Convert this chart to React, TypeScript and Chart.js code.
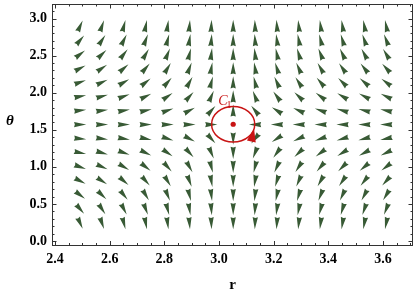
import { useEffect, useRef } from 'react';
import { Chart, registerables } from 'chart.js';

Chart.register(...registerables);

// Sample positions of the direction field
const rValues = [2.492, 2.572, 2.652, 2.732, 2.812, 2.892, 2.972, 3.052, 3.132, 3.212, 3.292, 3.372, 3.452, 3.532, 3.612];
const thetaValues = [0.24, 0.43, 0.62, 0.81, 1.0, 1.19, 1.38, 1.57, 1.76, 1.95, 2.14, 2.33, 2.52, 2.71, 2.9];

// Arrow directions on screen, degrees counter-clockwise from +r; rows bottom -> top; null = no arrow
const angleRows: (number | null)[][] = [
  [-65.6, -70.5, -74.8, -78.6, -81.9, -84.9, -87.6, -90, -92.2, -94.1, -95.9, -97.6, -99.1, -100.4, -101.7],
  [-49.8, -56.5, -63.0, -69.3, -75.1, -80.5, -85.5, -90, -94.1, -97.7, -101.0, -104.0, -106.6, -109.0, -111.2],
  [-37.2, -44.2, -51.6, -59.5, -67.5, -75.5, -83.0, -90, -96.3, -101.9, -106.8, -111.2, -114.9, -118.2, -121.1],
  [-27.3, -33.4, -40.6, -49.1, -58.7, -69.1, -79.8, -90, -99.3, -107.2, -114.0, -119.7, -124.4, -128.3, -131.6],
  [-19.2, -24.0, -30.1, -37.9, -48.0, -60.5, -75.0, -90, -103.6, -114.7, -123.4, -130.2, -135.4, -139.5, -142.8],
  [-12.2, -15.5, -19.8, -25.8, -34.6, -47.7, -66.7, -90, -111.2, -126.5, -136.7, -143.6, -148.5, -152.0, -154.7],
  [-6.0, -7.6, -9.9, -13.1, -18.4, -28.0, -48.3, -90, -128.8, -146.9, -155.6, -160.4, -163.5, -165.6, -167.2],
  [0, 0, 0, 0, 0, 0, 0, null, 180, 180, 180, 180, 180, 180, 180],
  [6.0, 7.6, 9.9, 13.1, 18.4, 28.0, 48.3, 90, 128.8, 146.9, 155.6, 160.4, 163.5, 165.6, 167.2],
  [12.2, 15.5, 19.8, 25.8, 34.6, 47.7, 66.7, 90, 111.2, 126.5, 136.7, 143.6, 148.5, 152.0, 154.7],
  [19.2, 24.0, 30.1, 37.9, 48.0, 60.5, 75.0, 90, 103.6, 114.7, 123.4, 130.2, 135.4, 139.5, 142.8],
  [27.3, 33.4, 40.6, 49.1, 58.7, 69.1, 79.8, 90, 99.3, 107.2, 114.0, 119.7, 124.4, 128.3, 131.6],
  [37.2, 44.2, 51.6, 59.5, 67.5, 75.5, 83.0, 90, 96.3, 101.9, 106.8, 111.2, 114.9, 118.2, 121.1],
  [49.8, 56.5, 63.0, 69.3, 75.1, 80.5, 85.5, 90, 94.1, 97.7, 101.0, 104.0, 106.6, 109.0, 111.2],
  [65.6, 70.5, 74.8, 78.6, 81.9, 84.9, 87.6, 90, 92.2, 94.1, 95.9, 97.6, 99.1, 100.4, 101.7],
];

const xTicks = [2.4, 2.6, 2.8, 3.0, 3.2, 3.4, 3.6];
const xMinorTicks = [2.4, 2.45, 2.5, 2.55, 2.6, 2.65, 2.7, 2.75, 2.8, 2.85, 2.9, 2.95, 3.0, 3.05, 3.1, 3.15, 3.2, 3.25, 3.3, 3.35, 3.4, 3.45, 3.5, 3.55, 3.6, 3.65, 3.7];
const yTicks = [0.0, 0.5, 1.0, 1.5, 2.0, 2.5, 3.0];
const yMinorTicks = [0.0, 0.1, 0.2, 0.3, 0.4, 0.5, 0.6, 0.7, 0.8, 0.9, 1.0, 1.1, 1.2, 1.3, 1.4, 1.5, 1.6, 1.7, 1.8, 1.9, 2.0, 2.1, 2.2, 2.3, 2.4, 2.5, 2.6, 2.7, 2.8, 2.9, 3.0, 3.1];

const criticalPoint = { r: 3.052, theta: 1.575 };
const contourRadius = { r: 0.079, theta: 0.24 };
const contourArrowAt = -15; // degrees along the contour
const contourLabel = 'C';
const contourSub = '1';

const X_MIN = 2.389;
const X_MAX = 3.71;
const Y_MIN = -0.06;
const Y_MAX = 3.196;

const ARROW_COLOR = '#385a35';
const RED = '#c81414';
const SERIF = '"Liberation Serif", "Times New Roman", serif';

const fieldPlugin = {
  id: 'fieldPlugin',
  afterDatasetsDraw(chart: any) {
    const { ctx, chartArea } = chart;
    const xs = chart.scales.x;
    const ys = chart.scales.y;

    // arrows
    const meta = chart.getDatasetMeta(0);
    const ds = chart.data.datasets[0];
    const L = 12.2;
    const W = 5.3;
    const N = 0.8;
    ctx.save();
    ctx.fillStyle = ARROW_COLOR;
    meta.data.forEach((el: any, i: number) => {
      const d = ds.data[i];
      const a = (-d.angle * Math.PI) / 180;
      ctx.save();
      ctx.translate(el.x, el.y);
      ctx.rotate(a);
      ctx.beginPath();
      ctx.moveTo(L / 2, 0);
      ctx.lineTo(-L / 2, -W / 2);
      ctx.lineTo(-L / 2 + N, 0);
      ctx.lineTo(-L / 2, W / 2);
      ctx.closePath();
      ctx.fill();
      ctx.restore();
    });
    ctx.restore();

    // contour
    const cx = xs.getPixelForValue(criticalPoint.r);
    const cy = ys.getPixelForValue(criticalPoint.theta);
    const rx = xs.getPixelForValue(criticalPoint.r + contourRadius.r) - cx;
    const ry = cy - ys.getPixelForValue(criticalPoint.theta + contourRadius.theta);
    ctx.save();
    ctx.strokeStyle = RED;
    ctx.lineWidth = 1.5;
    ctx.beginPath();
    ctx.ellipse(cx, cy, rx, ry, 0, 0, Math.PI * 2);
    ctx.stroke();
    // arrowhead, tip on the contour
    const t = (contourArrowAt * Math.PI) / 180;
    const px = cx + rx * Math.cos(t);
    const py = cy - ry * Math.sin(t);
    const ang = (-78 * Math.PI) / 180;
    ctx.fillStyle = RED;
    ctx.translate(px, py);
    ctx.rotate(ang);
    ctx.beginPath();
    ctx.moveTo(0, 0);
    ctx.lineTo(-13, -4.5);
    ctx.lineTo(-13, 4.5);
    ctx.closePath();
    ctx.fill();
    ctx.restore();

    // label
    ctx.save();
    ctx.fillStyle = RED;
    ctx.textBaseline = 'alphabetic';
    ctx.font = `italic 14px ${SERIF}`;
    ctx.fillText(contourLabel, cx - 15, cy - 19);
    const w = ctx.measureText(contourLabel).width;
    ctx.font = `10px ${SERIF}`;
    ctx.fillText(contourSub, cx - 15 + w - 1, cy - 16);
    ctx.restore();

    // frame and ticks
    ctx.save();
    ctx.strokeStyle = '#333';
    ctx.lineWidth = 1;
    const { left, right, top, bottom } = chartArea;
    ctx.strokeRect(Math.round(left) + 0.5, Math.round(top) + 0.5, Math.round(right - left) - 1, Math.round(bottom - top) - 1);
    ctx.beginPath();
    const major = 4.5;
    const minor = 2.5;
    xMinorTicks.forEach((v) => {
      const x = Math.round(xs.getPixelForValue(v)) + 0.5;
      const len = xTicks.some((m) => Math.abs(m - v) < 1e-6) ? major : minor;
      ctx.moveTo(x, bottom);
      ctx.lineTo(x, bottom - len);
      ctx.moveTo(x, top);
      ctx.lineTo(x, top + len);
    });
    yMinorTicks.forEach((v) => {
      const y = Math.round(ys.getPixelForValue(v)) + 0.5;
      const len = yTicks.some((m) => Math.abs(m - v) < 1e-6) ? major : minor;
      ctx.moveTo(left, y);
      ctx.lineTo(left + len, y);
      ctx.moveTo(right, y);
      ctx.lineTo(right - len, y);
    });
    ctx.stroke();
    ctx.restore();

    // theta label (upright)
    ctx.save();
    ctx.fillStyle = '#000';
    ctx.font = `bold italic 15px ${SERIF}`;
    ctx.textAlign = 'center';
    ctx.textBaseline = 'middle';
    ctx.fillText('θ', 10, (top + bottom) / 2 - 4);
    ctx.restore();
  },
};

export default function App() {
  const ref = useRef<HTMLCanvasElement | null>(null);
  useEffect(() => {
    if (!ref.current) return;
    const points: any[] = [];
    thetaValues.forEach((th, j) => {
      rValues.forEach((r, i) => {
        const a = angleRows[j][i];
        if (a !== null) points.push({ x: r, y: th, angle: a });
      });
    });
    const chart = new Chart(ref.current, {
      type: 'scatter',
      data: {
        datasets: [
          { label: 'field', data: points, pointRadius: 0, pointHoverRadius: 0 },
          {
            label: 'critical point',
            data: [{ x: criticalPoint.r, y: criticalPoint.theta }],
            pointRadius: 2.6,
            pointBackgroundColor: RED,
            pointBorderWidth: 0,
          },
        ],
      },
      options: {
        animation: false,
        responsive: true,
        maintainAspectRatio: false,
        layout: { padding: { top: 1, right: 6, left: 0, bottom: 0 } },
        plugins: { legend: { display: false }, tooltip: { enabled: false } },
        scales: {
          x: {
            type: 'linear',
            min: X_MIN,
            max: X_MAX,
            afterBuildTicks: (s: any) => {
              s.ticks = xTicks.map((v) => ({ value: v }));
            },
            afterFit: (s: any) => {
              s.height = 49.5;
              s.paddingLeft = 0;
              s.paddingRight = 0;
            },
            grid: { display: false, drawTicks: false },
            border: { display: false },
            ticks: {
              color: '#000',
              padding: 5,
              maxRotation: 0,
              autoSkip: false,
              font: { family: SERIF, weight: 'bold', size: 14 },
              callback: (v: any) => Number(v).toFixed(1),
            },
            title: {
              display: true,
              text: 'r',
              color: '#000',
              font: { family: SERIF, weight: 'bold', size: 15 },
              padding: { top: 0, bottom: 1 },
            },
          },
          y: {
            type: 'linear',
            min: Y_MIN,
            max: Y_MAX,
            afterBuildTicks: (s: any) => {
              s.ticks = yTicks.map((v) => ({ value: v }));
            },
            afterFit: (s: any) => {
              s.width = 52;
              s.paddingTop = 0;
              s.paddingBottom = 0;
            },
            grid: { display: false, drawTicks: false },
            border: { display: false },
            ticks: {
              color: '#000',
              padding: 5,
              autoSkip: false,
              font: { family: SERIF, weight: 'bold', size: 14 },
              callback: (v: any) => Number(v).toFixed(1),
            },
          },
        },
      },
      plugins: [fieldPlugin],
    });
    return () => chart.destroy();
  }, []);
  return (
    <div style={{ position: 'fixed', left: 0, top: 0, width: 419, height: 295, background: '#fff' }}>
      <canvas ref={ref} />
    </div>
  );
}
